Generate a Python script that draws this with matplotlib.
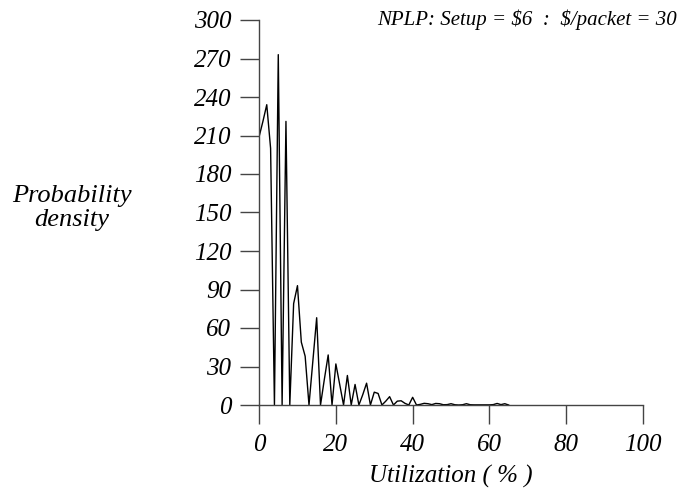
import matplotlib
matplotlib.use("Agg")
from matplotlib import pyplot as plt

utilization = list(range(66))
density = [209, 221, 234, 200, 0, 273, 0, 221, 0, 79,
           93, 49, 38, 0, 34, 68, 0, 20, 39, 0,
           32, 16, 0, 23, 0, 16, 0, 8, 17, 0,
           10, 9, 0, 3, 6.5, 0, 3, 3.3, 1.3, 0,
           6, 0, 0.5, 1.3, 1, 0.3, 1.2, 1, 0.2, 0.3,
           1, 0.2, 0, 0.2, 1, 0.2, 0.1, 0.1, 0.1, 0.1,
           0.1, 0.3, 1.2, 0.3, 1, 0]

x_ticks = [0, 20, 40, 60, 80, 100]
y_ticks = [0, 30, 60, 90, 120, 150, 180, 210, 240, 270, 300]

plt.rcParams['font.family'] = ['Liberation Serif', 'DejaVu Serif']
plt.rcParams['font.style'] = 'italic'

fig = plt.figure(figsize=(6.8, 5), dpi=100)
ax = fig.add_axes([0.381, 0.19, 0.5646, 0.77])

ax.plot(utilization, density, color='black', linewidth=1)

ax.set_xlim(0, 100)
ax.set_ylim(0, 300)
ax.set_xticks(x_ticks)
ax.set_yticks(y_ticks)
ax.tick_params(axis='both', direction='out', length=14, width=1,
               color='#444444', labelsize=18)
ax.tick_params(axis='y', pad=6)
ax.tick_params(axis='x', pad=7)

for side in ['top', 'right']:
    ax.spines[side].set_visible(False)
for side in ['left', 'bottom']:
    ax.spines[side].set_color('#444444')
    ax.spines[side].set_linewidth(1)

ax.set_xlabel('Utilization ( % )', fontsize=18, labelpad=6)
fig.text(0.106, 0.584, 'Probability\ndensity', fontsize=19,
         ha='center', va='center', linespacing=1.15)
fig.text(0.995, 0.96, r'NPLP: Setup = \$6  :  \$/packet = 30', fontsize=15,
         ha='right', va='center')

fig.savefig('out.png', dpi=100)
